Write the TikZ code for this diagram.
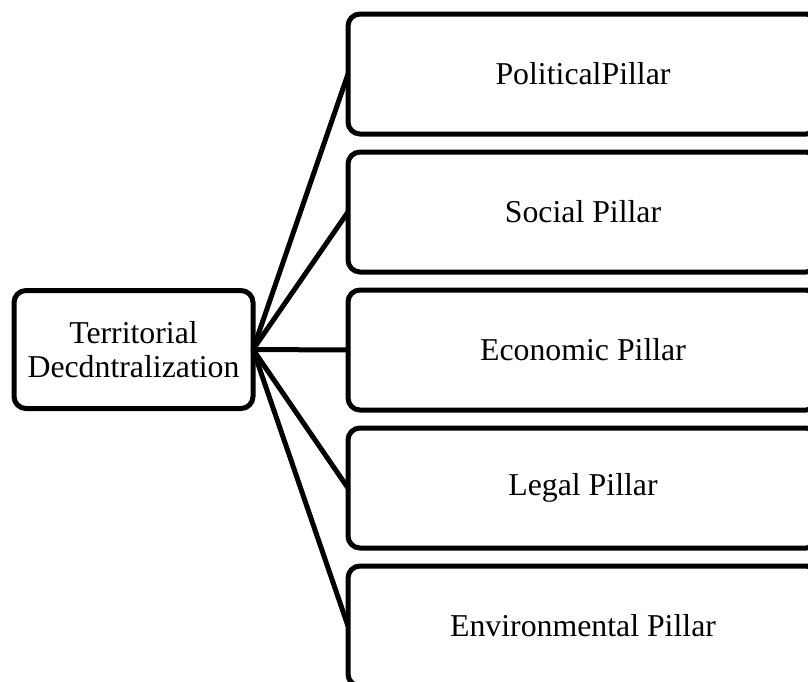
\documentclass[tikz,border=0pt]{standalone}
\usepackage{fontspec}
\setmainfont{Liberation Serif}
\usetikzlibrary{positioning}

\begin{document}
\begin{tikzpicture}[
  x=1pt, y=1pt,
  node distance=18pt,
  pillar/.style={
    rectangle,
    rounded corners=12pt,
    draw=black,
    line width=5pt,
    fill=white,
    minimum width=470pt,
    minimum height=120pt,
    outer sep=0pt,
    align=center,
    font=\fontsize{31.8}{34}\selectfont
  },
  root/.style={
    pillar,
    minimum width=239pt,
    minimum height=118pt
  },
  link/.style={
    draw=black,
    line width=5pt
  }
]
\useasboundingbox (0,0) rectangle (808,-681);

% Root
\node[root] (decentral) at (133.5,-349.5) {Territorial\\Decdntralization};

% Pillars
\node[pillar] (political) at (583,-74) {PoliticalPillar};
\node[pillar, below=of political] (social) {Social Pillar};
\node[pillar, below=of social] (economic) {Economic Pillar};
\node[pillar, below=of economic] (legal) {Legal Pillar};
\node[pillar, below=of legal] (environ) {Environmental Pillar};

% Connections
\draw[link] (decentral.east) -- (political.west);
\draw[link] (decentral.east) -- (social.west);
\draw[link] (decentral.east) -- (economic.west);
\draw[link] (decentral.east) -- (legal.west);
\draw[link] (decentral.east) -- (environ.west);

\end{tikzpicture}
\end{document}
